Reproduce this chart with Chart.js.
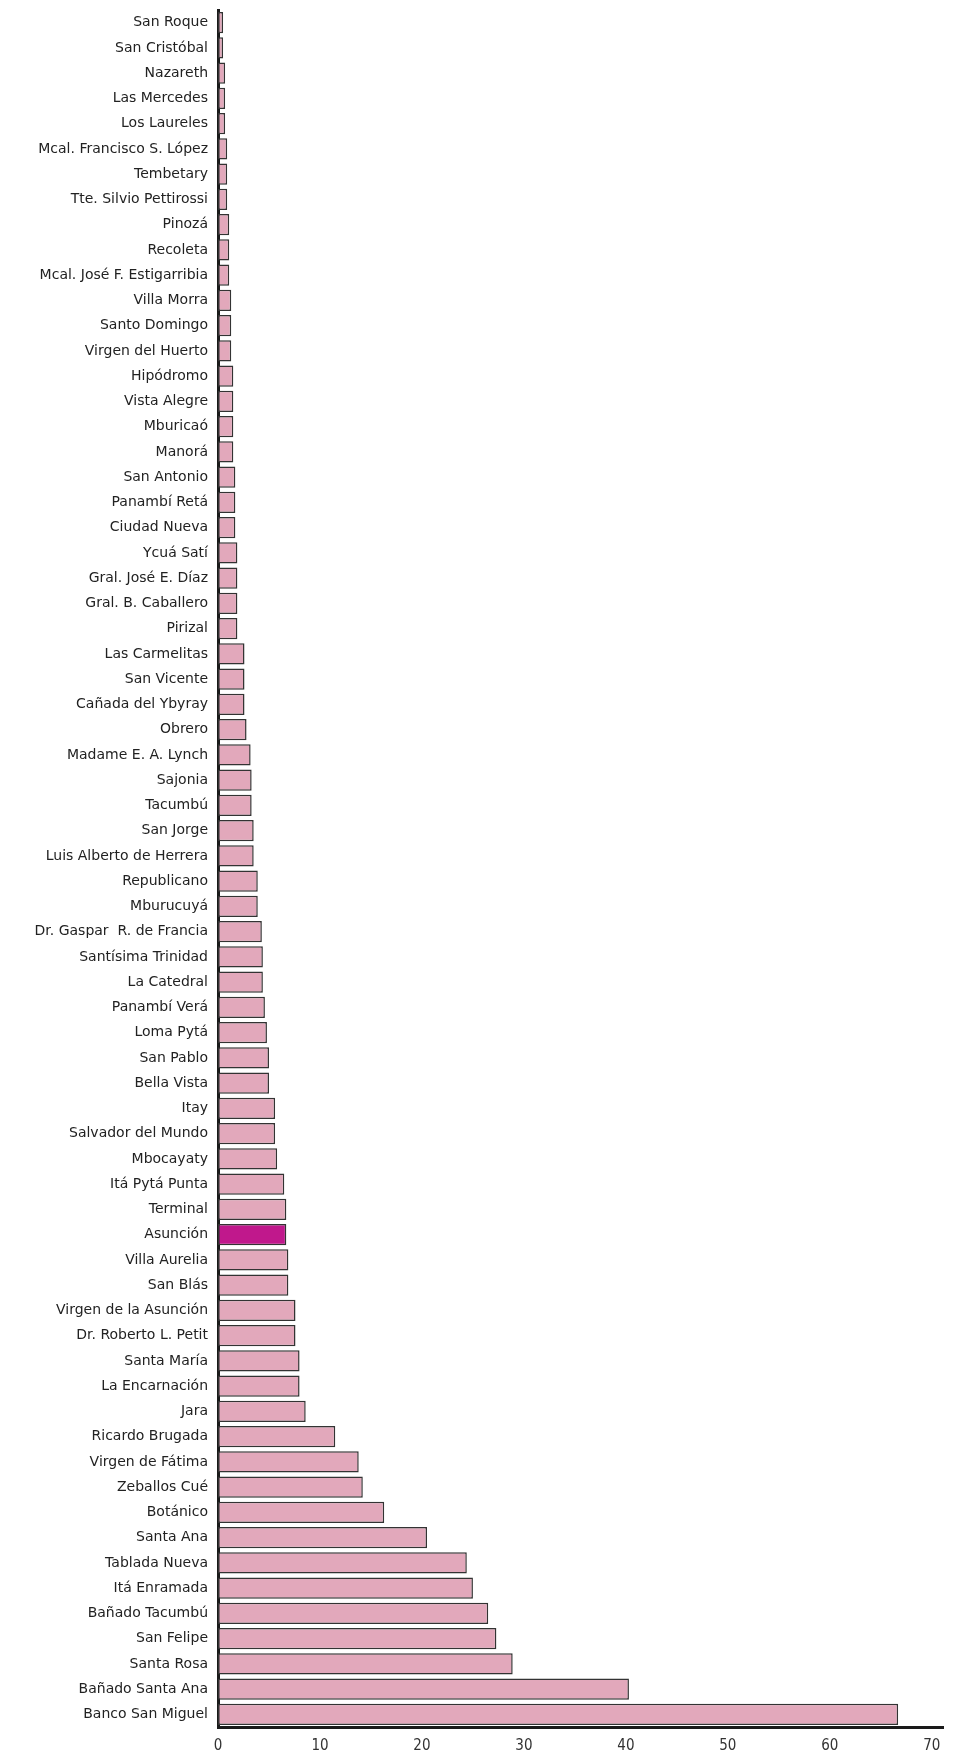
<!DOCTYPE html>
<html>
<head>
<meta charset="utf-8">
<script src="https://cdn.jsdelivr.net/npm/chart.js@4.4.1/dist/chart.umd.min.js"></script>
<style>
  html, body { margin: 0; padding: 0; background: #fff; }
  #wrap { width: 969px; height: 1753px; position: relative; }
</style>
</head>
<body>
<div id="wrap"><canvas id="barrios"></canvas></div>
<script>
// barrios, de menor a mayor
const barrios = [
    'San Roque', 'San Cristóbal', 'Nazareth', 'Las Mercedes', 'Los Laureles',
    'Mcal. Francisco S. López', 'Tembetary', 'Tte. Silvio Pettirossi', 'Pinozá', 'Recoleta',
    'Mcal. José F. Estigarribia', 'Villa Morra', 'Santo Domingo', 'Virgen del Huerto', 'Hipódromo',
    'Vista Alegre', 'Mburicaó', 'Manorá', 'San Antonio', 'Panambí Retá',
    'Ciudad Nueva', 'Ycuá Satí', 'Gral. José E. Díaz', 'Gral. B. Caballero', 'Pirizal',
    'Las Carmelitas', 'San Vicente', 'Cañada del Ybyray', 'Obrero', 'Madame E. A. Lynch',
    'Sajonia', 'Tacumbú', 'San Jorge', 'Luis Alberto de Herrera', 'Republicano',
    'Mburucuyá', 'Dr. Gaspar  R. de Francia', 'Santísima Trinidad', 'La Catedral', 'Panambí Verá',
    'Loma Pytá', 'San Pablo', 'Bella Vista', 'Itay', 'Salvador del Mundo',
    'Mbocayaty', 'Itá Pytá Punta', 'Terminal', 'Asunción', 'Villa Aurelia',
    'San Blás', 'Virgen de la Asunción', 'Dr. Roberto L. Petit', 'Santa María', 'La Encarnación',
    'Jara', 'Ricardo Brugada', 'Virgen de Fátima', 'Zeballos Cué', 'Botánico',
    'Santa Ana', 'Tablada Nueva', 'Itá Enramada', 'Bañado Tacumbú', 'San Felipe',
    'Santa Rosa', 'Bañado Santa Ana', 'Banco San Miguel'
];

const valores = [
    0.5, 0.5, 0.7, 0.7, 0.7,
    0.9, 0.9, 0.9, 1.1, 1.1,
    1.1, 1.3, 1.3, 1.3, 1.5,
    1.5, 1.5, 1.5, 1.7, 1.7,
    1.7, 1.9, 1.9, 1.9, 1.9,
    2.6, 2.6, 2.6, 2.8, 3.2,
    3.3, 3.3, 3.5, 3.5, 3.9,
    3.9, 4.3, 4.4, 4.4, 4.6,
    4.8, 5.0, 5.0, 5.6, 5.6,
    5.8, 6.5, 6.7, 6.7, 6.9,
    6.9, 7.6, 7.6, 8.0, 8.0,
    8.6, 11.5, 13.8, 14.2, 16.3,
    20.5, 24.4, 25.0, 26.5, 27.3,
    28.9, 40.3, 66.7
];

const ticksX = [0, 10, 20, 30, 40, 50, 60, 70];
const destacado = 'Asunción';

const rosa = '#e2a8bb';
const magenta = '#c0188c';

const ctx = document.getElementById('barrios');
new Chart(ctx, {
    type: 'bar',
    data: {
        labels: barrios,
        datasets: [{
            data: valores,
            backgroundColor: barrios.map(b => b === destacado ? magenta : rosa),
            borderColor: '#333',
            borderWidth: 1.5,
            borderSkipped: false,
            barPercentage: 0.85,
            categoryPercentage: 1
        }]
    },
    options: {
        indexAxis: 'y',
        responsive: true,
        maintainAspectRatio: false,
        animation: false,
        layout: { padding: { top: 10, right: 26, bottom: 0, left: 0 } },
        plugins: {
            legend: { display: false },
            tooltip: { enabled: false }
        },
        scales: {
            x: {
                min: 0,
                max: 71.1,
                afterBuildTicks: s => { s.ticks = ticksX.map(v => ({ value: v })); },
                grid: { display: false, drawTicks: false },
                border: { display: true, color: '#1a1a1a', width: 3 },
                ticks: {
                    padding: 10,
                    color: '#333',
                    font: { family: "'Liberation Sans Narrow', 'DejaVu Sans Condensed', 'Liberation Sans'", size: 15 }
                },
                afterFit: s => { s.height = 26; }
            },
            y: {
                grid: { display: false, drawTicks: false },
                border: { display: true, color: '#1a1a1a', width: 3 },
                ticks: {
                    autoSkip: false,
                    padding: 10,
                    color: '#222',
                    font: { family: "'DejaVu Sans'", size: 14 }
                },
                afterFit: s => {
                    s.width = 218;
                    s.paddingTop = 0;
                    s.paddingBottom = 0;
                }
            }
        }
    }
});
</script>
</body>
</html>
